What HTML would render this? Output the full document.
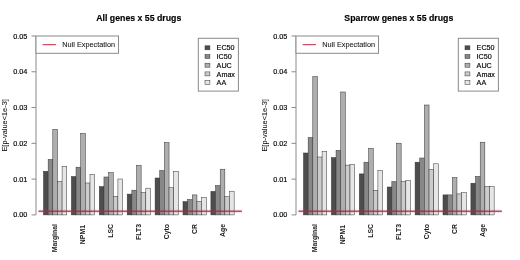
<!DOCTYPE html>
<html><head><meta charset="utf-8"><style>
html,body{margin:0;padding:0;background:#fff;}
svg{display:block;filter:blur(0.3px);font-family:"Liberation Sans",sans-serif;}
text{fill:#000;stroke:#000;stroke-width:0.15px;}
.xl{fill:#1a1a1a;stroke:none;}
.ne{fill:#111;stroke:#111;stroke-width:0.06px;}
</style></head><body>
<svg width="520" height="260" viewBox="0 0 520 260">
<rect width="520" height="260" fill="#fff"/>
<g transform="translate(0,0)">
<text x="138.8" y="20.5" text-anchor="middle" font-weight="bold" font-size="8.75">All genes x 55 drugs</text>
<rect x="43.50" y="171.30" width="4.65" height="43.60" fill="#4D4D4D" stroke="#333333" stroke-width="0.5"/>
<rect x="48.15" y="159.50" width="4.65" height="55.40" fill="#888888" stroke="#333333" stroke-width="0.5"/>
<rect x="52.80" y="129.30" width="4.65" height="85.60" fill="#AEAEAE" stroke="#333333" stroke-width="0.5"/>
<rect x="57.45" y="181.50" width="4.65" height="33.40" fill="#CCCCCC" stroke="#333333" stroke-width="0.5"/>
<rect x="62.10" y="166.50" width="4.65" height="48.40" fill="#E6E6E6" stroke="#333333" stroke-width="0.5"/>
<text transform="translate(57.23,224.00) rotate(-90)" text-anchor="end" font-weight="bold" font-size="6.9" class="xl">Marginal</text>
<rect x="71.40" y="176.50" width="4.65" height="38.40" fill="#4D4D4D" stroke="#333333" stroke-width="0.5"/>
<rect x="76.05" y="167.20" width="4.65" height="47.70" fill="#888888" stroke="#333333" stroke-width="0.5"/>
<rect x="80.70" y="133.40" width="4.65" height="81.50" fill="#AEAEAE" stroke="#333333" stroke-width="0.5"/>
<rect x="85.35" y="183.00" width="4.65" height="31.90" fill="#CCCCCC" stroke="#333333" stroke-width="0.5"/>
<rect x="90.00" y="174.30" width="4.65" height="40.60" fill="#E6E6E6" stroke="#333333" stroke-width="0.5"/>
<text transform="translate(85.12,225.00) rotate(-90)" text-anchor="end" font-weight="bold" font-size="6.9" class="xl">NPM1</text>
<rect x="99.30" y="186.60" width="4.65" height="28.30" fill="#4D4D4D" stroke="#333333" stroke-width="0.5"/>
<rect x="103.95" y="177.00" width="4.65" height="37.90" fill="#888888" stroke="#333333" stroke-width="0.5"/>
<rect x="108.60" y="172.60" width="4.65" height="42.30" fill="#AEAEAE" stroke="#333333" stroke-width="0.5"/>
<rect x="113.25" y="196.30" width="4.65" height="18.60" fill="#CCCCCC" stroke="#333333" stroke-width="0.5"/>
<rect x="117.90" y="179.00" width="4.65" height="35.90" fill="#E6E6E6" stroke="#333333" stroke-width="0.5"/>
<text transform="translate(113.03,224.00) rotate(-90)" text-anchor="end" font-weight="bold" font-size="6.9" class="xl">LSC</text>
<rect x="127.20" y="194.10" width="4.65" height="20.80" fill="#4D4D4D" stroke="#333333" stroke-width="0.5"/>
<rect x="131.85" y="190.20" width="4.65" height="24.70" fill="#888888" stroke="#333333" stroke-width="0.5"/>
<rect x="136.50" y="165.30" width="4.65" height="49.60" fill="#AEAEAE" stroke="#333333" stroke-width="0.5"/>
<rect x="141.15" y="192.60" width="4.65" height="22.30" fill="#CCCCCC" stroke="#333333" stroke-width="0.5"/>
<rect x="145.80" y="188.20" width="4.65" height="26.70" fill="#E6E6E6" stroke="#333333" stroke-width="0.5"/>
<text transform="translate(140.92,224.00) rotate(-90)" text-anchor="end" font-weight="bold" font-size="6.9" class="xl">FLT3</text>
<rect x="155.10" y="178.00" width="4.65" height="36.90" fill="#4D4D4D" stroke="#333333" stroke-width="0.5"/>
<rect x="159.75" y="170.50" width="4.65" height="44.40" fill="#888888" stroke="#333333" stroke-width="0.5"/>
<rect x="164.40" y="142.60" width="4.65" height="72.30" fill="#AEAEAE" stroke="#333333" stroke-width="0.5"/>
<rect x="169.05" y="187.70" width="4.65" height="27.20" fill="#CCCCCC" stroke="#333333" stroke-width="0.5"/>
<rect x="173.70" y="171.50" width="4.65" height="43.40" fill="#E6E6E6" stroke="#333333" stroke-width="0.5"/>
<text transform="translate(168.83,224.00) rotate(-90)" text-anchor="end" font-weight="bold" font-size="6.9" class="xl">Cyto</text>
<rect x="183.00" y="201.60" width="4.65" height="13.30" fill="#4D4D4D" stroke="#333333" stroke-width="0.5"/>
<rect x="187.65" y="199.50" width="4.65" height="15.40" fill="#888888" stroke="#333333" stroke-width="0.5"/>
<rect x="192.30" y="194.90" width="4.65" height="20.00" fill="#AEAEAE" stroke="#333333" stroke-width="0.5"/>
<rect x="196.95" y="201.60" width="4.65" height="13.30" fill="#CCCCCC" stroke="#333333" stroke-width="0.5"/>
<rect x="201.60" y="197.60" width="4.65" height="17.30" fill="#E6E6E6" stroke="#333333" stroke-width="0.5"/>
<text transform="translate(196.72,224.00) rotate(-90)" text-anchor="end" font-weight="bold" font-size="6.9" class="xl">CR</text>
<rect x="210.90" y="191.40" width="4.65" height="23.50" fill="#4D4D4D" stroke="#333333" stroke-width="0.5"/>
<rect x="215.55" y="185.60" width="4.65" height="29.30" fill="#888888" stroke="#333333" stroke-width="0.5"/>
<rect x="220.20" y="169.20" width="4.65" height="45.70" fill="#AEAEAE" stroke="#333333" stroke-width="0.5"/>
<rect x="224.85" y="196.70" width="4.65" height="18.20" fill="#CCCCCC" stroke="#333333" stroke-width="0.5"/>
<rect x="229.50" y="191.20" width="4.65" height="23.70" fill="#E6E6E6" stroke="#333333" stroke-width="0.5"/>
<text transform="translate(224.62,224.00) rotate(-90)" text-anchor="end" font-weight="bold" font-size="6.9" class="xl">Age</text>
<rect x="38.5" y="209.6" width="203.40" height="3.2" fill="#e04070" fill-opacity="0.18"/>
<rect x="38.5" y="210.65" width="203.40" height="1.1" fill="#962a3c"/>
<line x1="36.0" y1="36.0" x2="36.0" y2="214.9" stroke="#8a8a8a" stroke-width="1"/>
<line x1="31.5" y1="214.90" x2="36.0" y2="214.90" stroke="#8a8a8a" stroke-width="1"/>
<text x="27.4" y="217.40" text-anchor="end" font-size="7.3">0.00</text>
<line x1="31.5" y1="179.12" x2="36.0" y2="179.12" stroke="#8a8a8a" stroke-width="1"/>
<text x="27.4" y="181.62" text-anchor="end" font-size="7.3">0.01</text>
<line x1="31.5" y1="143.34" x2="36.0" y2="143.34" stroke="#8a8a8a" stroke-width="1"/>
<text x="27.4" y="145.84" text-anchor="end" font-size="7.3">0.02</text>
<line x1="31.5" y1="107.56" x2="36.0" y2="107.56" stroke="#8a8a8a" stroke-width="1"/>
<text x="27.4" y="110.06" text-anchor="end" font-size="7.3">0.03</text>
<line x1="31.5" y1="71.78" x2="36.0" y2="71.78" stroke="#8a8a8a" stroke-width="1"/>
<text x="27.4" y="74.28" text-anchor="end" font-size="7.3">0.04</text>
<line x1="31.5" y1="36.00" x2="36.0" y2="36.00" stroke="#8a8a8a" stroke-width="1"/>
<text x="27.4" y="38.50" text-anchor="end" font-size="7.3">0.05</text>
<text transform="translate(6.8,125.4) rotate(-90)" text-anchor="middle" font-size="7.4" class="ne">E[p-value&lt;1e-3]</text>
<rect x="36.0" y="36" width="82.5" height="17.3" fill="white" stroke="#8a8a8a" stroke-width="1"/>
<rect x="42.6" y="44.1" width="13.3" height="1.1" fill="#c83a55"/>
<text x="62.3" y="47.4" font-size="7.3" class="ne">Null Expectation</text>
<rect x="198.3" y="38.3" width="40.1" height="52.8" fill="white" stroke="#8a8a8a" stroke-width="1"/>
<rect x="205.0" y="45.80" width="4.9" height="4.0" fill="#4D4D4D" stroke="#333333" stroke-width="0.5"/>
<text x="216.6" y="50.40" font-size="7.2">EC50</text>
<rect x="205.0" y="54.50" width="4.9" height="4.0" fill="#888888" stroke="#333333" stroke-width="0.5"/>
<text x="216.6" y="59.10" font-size="7.2">IC50</text>
<rect x="205.0" y="63.20" width="4.9" height="4.0" fill="#AEAEAE" stroke="#333333" stroke-width="0.5"/>
<text x="216.6" y="67.80" font-size="7.2">AUC</text>
<rect x="205.0" y="71.90" width="4.9" height="4.0" fill="#CCCCCC" stroke="#333333" stroke-width="0.5"/>
<text x="216.6" y="76.50" font-size="7.2">Amax</text>
<rect x="205.0" y="80.60" width="4.9" height="4.0" fill="#E6E6E6" stroke="#333333" stroke-width="0.5"/>
<text x="216.6" y="85.20" font-size="7.2">AA</text>
</g>
<g transform="translate(260,0)">
<text x="138.8" y="20.5" text-anchor="middle" font-weight="bold" font-size="8.75">Sparrow genes x 55 drugs</text>
<rect x="43.50" y="153.00" width="4.65" height="61.90" fill="#4D4D4D" stroke="#333333" stroke-width="0.5"/>
<rect x="48.15" y="137.60" width="4.65" height="77.30" fill="#888888" stroke="#333333" stroke-width="0.5"/>
<rect x="52.80" y="76.50" width="4.65" height="138.40" fill="#AEAEAE" stroke="#333333" stroke-width="0.5"/>
<rect x="57.45" y="157.00" width="4.65" height="57.90" fill="#CCCCCC" stroke="#333333" stroke-width="0.5"/>
<rect x="62.10" y="151.60" width="4.65" height="63.30" fill="#E6E6E6" stroke="#333333" stroke-width="0.5"/>
<text transform="translate(57.23,224.00) rotate(-90)" text-anchor="end" font-weight="bold" font-size="6.9" class="xl">Marginal</text>
<rect x="71.40" y="157.60" width="4.65" height="57.30" fill="#4D4D4D" stroke="#333333" stroke-width="0.5"/>
<rect x="76.05" y="150.30" width="4.65" height="64.60" fill="#888888" stroke="#333333" stroke-width="0.5"/>
<rect x="80.70" y="92.00" width="4.65" height="122.90" fill="#AEAEAE" stroke="#333333" stroke-width="0.5"/>
<rect x="85.35" y="165.10" width="4.65" height="49.80" fill="#CCCCCC" stroke="#333333" stroke-width="0.5"/>
<rect x="90.00" y="164.50" width="4.65" height="50.40" fill="#E6E6E6" stroke="#333333" stroke-width="0.5"/>
<text transform="translate(85.12,225.00) rotate(-90)" text-anchor="end" font-weight="bold" font-size="6.9" class="xl">NPM1</text>
<rect x="99.30" y="173.90" width="4.65" height="41.00" fill="#4D4D4D" stroke="#333333" stroke-width="0.5"/>
<rect x="103.95" y="162.20" width="4.65" height="52.70" fill="#888888" stroke="#333333" stroke-width="0.5"/>
<rect x="108.60" y="148.40" width="4.65" height="66.50" fill="#AEAEAE" stroke="#333333" stroke-width="0.5"/>
<rect x="113.25" y="190.30" width="4.65" height="24.60" fill="#CCCCCC" stroke="#333333" stroke-width="0.5"/>
<rect x="117.90" y="170.40" width="4.65" height="44.50" fill="#E6E6E6" stroke="#333333" stroke-width="0.5"/>
<text transform="translate(113.03,224.00) rotate(-90)" text-anchor="end" font-weight="bold" font-size="6.9" class="xl">LSC</text>
<rect x="127.20" y="187.00" width="4.65" height="27.90" fill="#4D4D4D" stroke="#333333" stroke-width="0.5"/>
<rect x="131.85" y="181.60" width="4.65" height="33.30" fill="#888888" stroke="#333333" stroke-width="0.5"/>
<rect x="136.50" y="143.20" width="4.65" height="71.70" fill="#AEAEAE" stroke="#333333" stroke-width="0.5"/>
<rect x="141.15" y="181.60" width="4.65" height="33.30" fill="#CCCCCC" stroke="#333333" stroke-width="0.5"/>
<rect x="145.80" y="180.60" width="4.65" height="34.30" fill="#E6E6E6" stroke="#333333" stroke-width="0.5"/>
<text transform="translate(140.92,224.00) rotate(-90)" text-anchor="end" font-weight="bold" font-size="6.9" class="xl">FLT3</text>
<rect x="155.10" y="162.20" width="4.65" height="52.70" fill="#4D4D4D" stroke="#333333" stroke-width="0.5"/>
<rect x="159.75" y="158.00" width="4.65" height="56.90" fill="#888888" stroke="#333333" stroke-width="0.5"/>
<rect x="164.40" y="105.00" width="4.65" height="109.90" fill="#AEAEAE" stroke="#333333" stroke-width="0.5"/>
<rect x="169.05" y="169.50" width="4.65" height="45.40" fill="#CCCCCC" stroke="#333333" stroke-width="0.5"/>
<rect x="173.70" y="163.80" width="4.65" height="51.10" fill="#E6E6E6" stroke="#333333" stroke-width="0.5"/>
<text transform="translate(168.83,224.00) rotate(-90)" text-anchor="end" font-weight="bold" font-size="6.9" class="xl">Cyto</text>
<rect x="183.00" y="194.90" width="4.65" height="20.00" fill="#4D4D4D" stroke="#333333" stroke-width="0.5"/>
<rect x="187.65" y="194.90" width="4.65" height="20.00" fill="#888888" stroke="#333333" stroke-width="0.5"/>
<rect x="192.30" y="177.60" width="4.65" height="37.30" fill="#AEAEAE" stroke="#333333" stroke-width="0.5"/>
<rect x="196.95" y="193.90" width="4.65" height="21.00" fill="#CCCCCC" stroke="#333333" stroke-width="0.5"/>
<rect x="201.60" y="192.60" width="4.65" height="22.30" fill="#E6E6E6" stroke="#333333" stroke-width="0.5"/>
<text transform="translate(196.72,224.00) rotate(-90)" text-anchor="end" font-weight="bold" font-size="6.9" class="xl">CR</text>
<rect x="210.90" y="183.20" width="4.65" height="31.70" fill="#4D4D4D" stroke="#333333" stroke-width="0.5"/>
<rect x="215.55" y="176.40" width="4.65" height="38.50" fill="#888888" stroke="#333333" stroke-width="0.5"/>
<rect x="220.20" y="142.20" width="4.65" height="72.70" fill="#AEAEAE" stroke="#333333" stroke-width="0.5"/>
<rect x="224.85" y="186.70" width="4.65" height="28.20" fill="#CCCCCC" stroke="#333333" stroke-width="0.5"/>
<rect x="229.50" y="186.70" width="4.65" height="28.20" fill="#E6E6E6" stroke="#333333" stroke-width="0.5"/>
<text transform="translate(224.62,224.00) rotate(-90)" text-anchor="end" font-weight="bold" font-size="6.9" class="xl">Age</text>
<rect x="38.5" y="209.6" width="203.40" height="3.2" fill="#e04070" fill-opacity="0.18"/>
<rect x="38.5" y="210.65" width="203.40" height="1.1" fill="#962a3c"/>
<line x1="36.0" y1="36.0" x2="36.0" y2="214.9" stroke="#8a8a8a" stroke-width="1"/>
<line x1="31.5" y1="214.90" x2="36.0" y2="214.90" stroke="#8a8a8a" stroke-width="1"/>
<text x="27.4" y="217.40" text-anchor="end" font-size="7.3">0.00</text>
<line x1="31.5" y1="179.12" x2="36.0" y2="179.12" stroke="#8a8a8a" stroke-width="1"/>
<text x="27.4" y="181.62" text-anchor="end" font-size="7.3">0.01</text>
<line x1="31.5" y1="143.34" x2="36.0" y2="143.34" stroke="#8a8a8a" stroke-width="1"/>
<text x="27.4" y="145.84" text-anchor="end" font-size="7.3">0.02</text>
<line x1="31.5" y1="107.56" x2="36.0" y2="107.56" stroke="#8a8a8a" stroke-width="1"/>
<text x="27.4" y="110.06" text-anchor="end" font-size="7.3">0.03</text>
<line x1="31.5" y1="71.78" x2="36.0" y2="71.78" stroke="#8a8a8a" stroke-width="1"/>
<text x="27.4" y="74.28" text-anchor="end" font-size="7.3">0.04</text>
<line x1="31.5" y1="36.00" x2="36.0" y2="36.00" stroke="#8a8a8a" stroke-width="1"/>
<text x="27.4" y="38.50" text-anchor="end" font-size="7.3">0.05</text>
<text transform="translate(6.8,125.4) rotate(-90)" text-anchor="middle" font-size="7.4" class="ne">E[p-value&lt;1e-3]</text>
<rect x="36.0" y="36" width="82.5" height="17.3" fill="white" stroke="#8a8a8a" stroke-width="1"/>
<rect x="42.6" y="44.1" width="13.3" height="1.1" fill="#c83a55"/>
<text x="62.3" y="47.4" font-size="7.3" class="ne">Null Expectation</text>
<rect x="198.3" y="38.3" width="40.1" height="52.8" fill="white" stroke="#8a8a8a" stroke-width="1"/>
<rect x="205.0" y="45.80" width="4.9" height="4.0" fill="#4D4D4D" stroke="#333333" stroke-width="0.5"/>
<text x="216.6" y="50.40" font-size="7.2">EC50</text>
<rect x="205.0" y="54.50" width="4.9" height="4.0" fill="#888888" stroke="#333333" stroke-width="0.5"/>
<text x="216.6" y="59.10" font-size="7.2">IC50</text>
<rect x="205.0" y="63.20" width="4.9" height="4.0" fill="#AEAEAE" stroke="#333333" stroke-width="0.5"/>
<text x="216.6" y="67.80" font-size="7.2">AUC</text>
<rect x="205.0" y="71.90" width="4.9" height="4.0" fill="#CCCCCC" stroke="#333333" stroke-width="0.5"/>
<text x="216.6" y="76.50" font-size="7.2">Amax</text>
<rect x="205.0" y="80.60" width="4.9" height="4.0" fill="#E6E6E6" stroke="#333333" stroke-width="0.5"/>
<text x="216.6" y="85.20" font-size="7.2">AA</text>
</g>
</svg>
</body></html>
